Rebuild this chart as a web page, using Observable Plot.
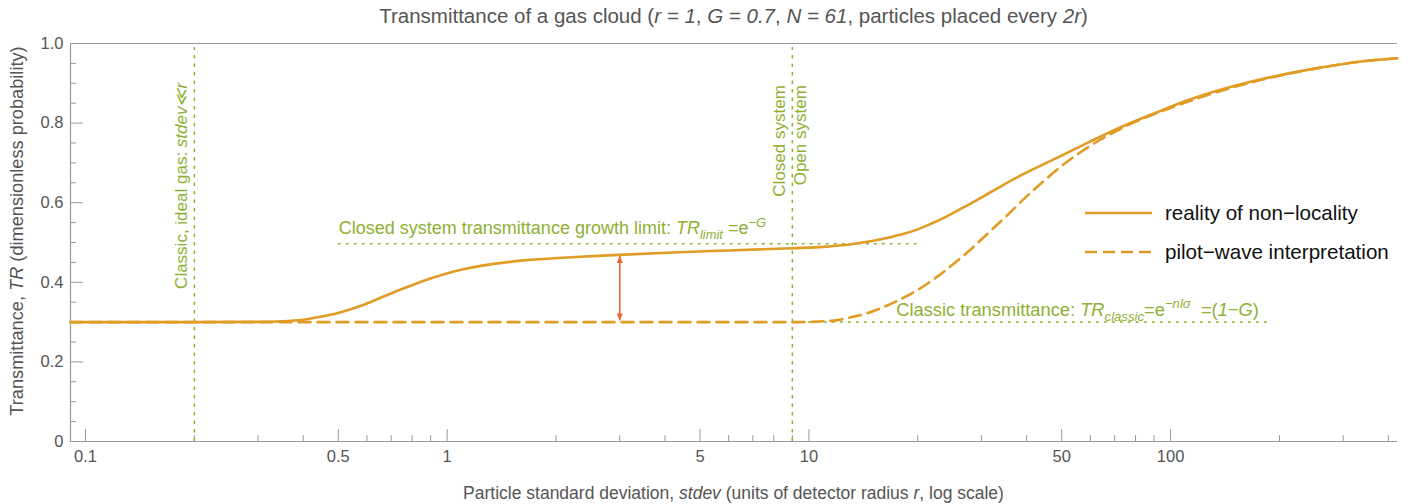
<!DOCTYPE html>
<html>
<head>
<meta charset="utf-8">
<script src="https://cdn.jsdelivr.net/npm/d3@7"></script>
<script src="https://cdn.jsdelivr.net/npm/@observablehq/plot@0.6"></script>
<style>
  body { margin: 0; background: #fff; }
  #chart svg { display: block; }
</style>
</head>
<body>
<div id="chart"></div>
<script>
// ---------- data ----------
const stdevSolid = [0.0909, 0.2, 0.3, 0.35, 0.4, 0.45, 0.5, 0.577, 0.65, 0.75, 0.85, 0.97, 1.1, 1.26, 1.63, 2.2, 3.0, 4.2, 6.0, 9.0, 11, 13.1, 14.8, 16.9, 18.5, 20, 22, 24, 26, 28.8, 31.6, 35, 39, 48.3, 59.7, 73.6, 91, 112, 139, 172, 212, 262, 324, 424];
const trSolid    = [0.3, 0.3, 0.3005, 0.302, 0.306, 0.314, 0.323, 0.341, 0.360, 0.383, 0.402, 0.419, 0.432, 0.4425, 0.455, 0.463, 0.469, 0.475, 0.480, 0.4856, 0.489, 0.4955, 0.503, 0.514, 0.523, 0.533, 0.549, 0.565, 0.582, 0.604, 0.625, 0.648, 0.671, 0.712, 0.753, 0.7915, 0.826, 0.858, 0.885, 0.907, 0.925, 0.940, 0.953, 0.963];

const stdevDashed = [0.0909, 9, 10, 11, 12, 12.6, 14.1, 15.8, 17.8, 20, 22.4, 25.1, 28.2, 31.6, 35.5, 39.8, 44.7, 50.1, 56.2, 63.1, 70.8, 79.4, 89.1, 100, 112, 139, 172, 212, 262, 324, 424];
const trDashed    = [0.3, 0.3, 0.3005, 0.302, 0.305, 0.309, 0.319, 0.335, 0.356, 0.381, 0.411, 0.446, 0.485, 0.527, 0.570, 0.614, 0.655, 0.693, 0.726, 0.755, 0.780, 0.802, 0.821, 0.838, 0.854, 0.882, 0.905, 0.924, 0.940, 0.953, 0.963];

const seriesNames = ["reality of non\u2212locality", "pilot\u2212wave interpretation"];

const xDomain = [0.0909, 424];
const xTicksMajor = [0.1, 0.5, 1, 5, 10, 50, 100];
const xTicksMinor = [0.2, 0.3, 0.4, 0.6, 0.7, 0.8, 0.9, 2, 3, 4, 6, 7, 8, 9, 20, 30, 40, 60, 70, 80, 90, 200, 300, 400];
const yTicksMajor = [0, 0.2, 0.4, 0.6, 0.8, 1.0];
const yTicksMinor = [0.05, 0.1, 0.15, 0.25, 0.3, 0.35, 0.45, 0.5, 0.55, 0.65, 0.7, 0.75, 0.85, 0.9, 0.95];

const regimeLines = [0.2, 9];          // vertical dotted guides (stdev)
const trLimit = 0.4966;                // e^-G
const trClassic = 0.3;                 // 1 - G
const limitSpan = [0.5, 20];
const classicSpan = [9, 187];
const arrowStdev = 3;
const arrowSpan = [0.304, 0.466];

// ---------- styles ----------
const C = { orange: "#E09C24", green: "#8FB032", red: "#EB6235", axis: "#9a9a9a", text: "#555555" };
const FONT = "'Liberation Sans', Arial, Helvetica, sans-serif";

const solid = stdevSolid.map((x, i) => ({ x, y: trSolid[i] }));
const dashed = stdevDashed.map((x, i) => ({ x, y: trDashed[i] }));

const tickShape = { draw(context, l) { context.moveTo(0, 0); context.lineTo(0, -l); } };

function filledArrow(color) {
  const m = d3.create("svg:marker")
    .attr("viewBox", "-8 -4 8 8")
    .attr("markerWidth", 8).attr("markerHeight", 8)
    .attr("markerUnits", "userSpaceOnUse")
    .attr("orient", "auto-start-reverse")
    .attr("fill", color).attr("stroke", "none");
  m.append("path").attr("d", "M-7,-3L0,0L-7,3Z");
  return m.node();
}

const plot = Plot.plot({
  width: 1416,
  height: 504,
  marginLeft: 70,
  marginRight: 19,
  marginTop: 43,
  marginBottom: 63,
  style: { fontFamily: FONT, background: "white", overflow: "visible" },
  x: { type: "log", domain: xDomain },
  y: { domain: [0, 1] },
  marks: [
    // frame (left, bottom, top)
    Plot.ruleY([0, 1], { stroke: C.axis, strokeWidth: 1.2 }),
    Plot.ruleX([xDomain[0]], { stroke: C.axis, strokeWidth: 1.2 }),
    // inward ticks
    Plot.vectorX(xTicksMajor, { x: d => d, frameAnchor: "bottom", length: 12, rotate: 0, anchor: "start", shape: tickShape, stroke: C.axis, strokeWidth: 1 }),
    Plot.vectorX(xTicksMinor, { x: d => d, frameAnchor: "bottom", length: 6, rotate: 0, anchor: "start", shape: tickShape, stroke: C.axis, strokeWidth: 1 }),
    Plot.vectorY(yTicksMajor, { y: d => d, frameAnchor: "left", length: 12, rotate: 90, anchor: "start", shape: tickShape, stroke: C.axis, strokeWidth: 1 }),
    Plot.vectorY(yTicksMinor, { y: d => d, frameAnchor: "left", length: 5, rotate: 90, anchor: "start", shape: tickShape, stroke: C.axis, strokeWidth: 1 }),
    // tick labels
    Plot.axisX(xTicksMajor, { tickSize: 0, tickPadding: 9, tickFormat: d => String(d), fontSize: 16.5, color: C.text, label: null }),
    Plot.axisY(yTicksMajor, { tickSize: 0, tickPadding: 7, tickFormat: d => d === 0 ? "0" : d.toFixed(1), fontSize: 16.5, color: C.text, label: null }),
    // green guides
    Plot.ruleX(regimeLines, { x: d => d, y1: 0, y2: 0.99, stroke: C.green, strokeWidth: 1.5, strokeDasharray: "3.5,5" }),
    Plot.ruleY([{ y: trLimit, x1: limitSpan[0], x2: limitSpan[1] }], { y: "y", x1: "x1", x2: "x2", stroke: C.green, strokeWidth: 1.5, strokeDasharray: "3,5" }),
    Plot.ruleY([{ y: trClassic, x1: classicSpan[0], x2: classicSpan[1] }], { y: "y", x1: "x1", x2: "x2", stroke: C.green, strokeWidth: 1.5, strokeDasharray: "3,5" }),
    // curves
    Plot.line(dashed, { x: "x", y: "y", stroke: C.orange, strokeWidth: 2.6, strokeDasharray: "12,7", curve: "monotone-x" }),
    Plot.line(solid, { x: "x", y: "y", stroke: C.orange, strokeWidth: 2.6, curve: "monotone-x" }),
    // red double arrow
    Plot.link([{ x: arrowStdev, y1: arrowSpan[0], y2: arrowSpan[1] }], {
      x1: "x", x2: "x", y1: "y1", y2: "y2", stroke: C.red, strokeWidth: 1.5,
      markerStart: filledArrow, markerEnd: filledArrow
    })
  ]
});

document.getElementById("chart").appendChild(plot);

// ---------- rich text (italic / sub / sup) ----------
const sx = v => plot.scale("x").apply(v);
const sy = v => plot.scale("y").apply(v);
const svg = d3.select(plot);

function rich(sel, parts, fs) {
  let cur = 0;
  for (const p of parts) {
    const part = typeof p === "string" ? { t: p } : p;
    const size = part.s ? fs * 0.72 : fs;
    const target = part.s === "sub" ? fs * 0.28 : part.s === "sup" ? -fs * 0.42 : 0;
    const ts = sel.append("tspan").text(part.t).attr("font-size", size);
    if (part.i) ts.attr("font-style", "italic");
    if (target !== cur) { ts.attr("dy", target - cur); cur = target; }
  }
  return sel;
}

function addText(x, y, parts, { fs = 16, fill = C.text, anchor = "start", rotate = 0 } = {}) {
  const t = svg.append("text")
    .attr("transform", `translate(${x},${y})` + (rotate ? ` rotate(${rotate})` : ""))
    .attr("text-anchor", anchor)
    .attr("font-family", FONT)
    .attr("font-size", fs)
    .attr("fill", fill);
  return rich(t, parts, fs);
}

const frameCenter = (sx(xDomain[0]) + sx(xDomain[1])) / 2;

// title
addText(frameCenter, 23, [
  "Transmittance of a gas cloud (", { t: "r = 1", i: true }, ", ",
  { t: "G = 0.7", i: true }, ", ", { t: "N = 61", i: true },
  ", particles placed every ", { t: "2r", i: true }, ")"
], { fs: 20.5, anchor: "middle" });

// x label
addText(frameCenter, 499, [
  "Particle standard deviation, ", { t: "stdev", i: true },
  " (units of detector radius ", { t: "r", i: true }, ", log scale)"
], { fs: 17.5, anchor: "middle" });

// y label
addText(23, 231, [
  "Transmittance, ", { t: "TR", i: true }, " (dimensionless probability)"
], { fs: 18.2, anchor: "middle", rotate: -90 });

// green annotations
addText(sx(regimeLines[0]) - 6.5, sy(0.641), [
  "Classic, ideal gas: ", { t: "stdev\u226Ar", i: true }
], { fs: 17, fill: C.green, anchor: "middle", rotate: -90 });

addText(sx(regimeLines[1]) - 6.7, sy(0.894), ["Closed system"], { fs: 17, fill: C.green, anchor: "end", rotate: -90 });
addText(sx(regimeLines[1]) + 14, sy(0.894), ["Open system"], { fs: 17, fill: C.green, anchor: "end", rotate: -90 });

addText(sx(limitSpan[0]) + 1, sy(trLimit) - 9, [
  "Closed system transmittance growth limit: ", { t: "TR", i: true },
  { t: "limit", i: true, s: "sub" }, " =e", { t: "\u2212G", i: true, s: "sup" }
], { fs: 18, fill: C.green });

addText(sx(17.5), sy(trClassic) - 6, [
  "Classic transmittance: ", { t: "TR", i: true },
  { t: "classic", i: true, s: "sub" }, "=e", { t: "\u2212nl\u03C3", i: true, s: "sup" },
  "  =(", { t: "1\u2212G", i: true }, ")"
], { fs: 18.3, fill: C.green });

// legend
const legendX = 1085, legendY = [213, 252];
legendY.forEach((ly, i) => {
  svg.append("line")
    .attr("x1", legendX).attr("x2", legendX + 67)
    .attr("y1", ly).attr("y2", ly)
    .attr("stroke", C.orange).attr("stroke-width", 2.6)
    .attr("stroke-dasharray", i === 1 ? "12,6" : null);
  svg.append("text")
    .attr("x", legendX + 80).attr("y", ly + 7)
    .attr("text-anchor", "start")
    .attr("font-family", FONT).attr("font-size", 20.6).attr("fill", "#111")
    .text(seriesNames[i]);
});
</script>
</body>
</html>
